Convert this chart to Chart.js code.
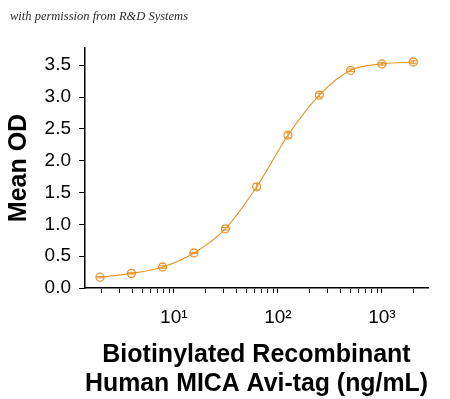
<!DOCTYPE html>
<html>
<head>
<meta charset="utf-8">
<script src="https://cdn.jsdelivr.net/npm/chart.js@4/dist/chart.umd.min.js"></script>
<style>
  html, body { margin: 0; padding: 0; background: #fff; }
  #wrap { position: relative; width: 450px; height: 399px; }
  #credit { position: absolute; left: 10px; top: 9px; font: italic 12.5px "Liberation Serif", "DejaVu Serif", serif; color: #2a2a2a; white-space: nowrap; }
  canvas { position: absolute; left: 0; top: 0; }
</style>
</head>
<body>
<div id="wrap">
  <canvas id="c" width="450" height="399"></canvas>
  <div id="credit">with permission from R&amp;D Systems</div>
</div>
<script>
// Data
const concentrations = [1.95, 3.91, 7.81, 15.6, 31.25, 62.5, 125, 250, 500, 1000, 2000];
const meanOD = [0.17, 0.23, 0.33, 0.55, 0.93, 1.59, 2.40, 3.03, 3.42, 3.52, 3.55];
const odError = [0.01, 0.01, 0.02, 0.01, 0.02, 0.05, 0.04, 0.03, 0.02, 0.02, 0.02];
const yTickValues = [0, 0.5, 1.0, 1.5, 2.0, 2.5, 3.0, 3.5];
const xMajorLabels = { 10: '10\u00B9', 100: '10\u00B2', 1000: '10\u00B3' };

const ORANGE = '#E8952A';
const points = concentrations.map((c, i) => ({ x: c, y: meanOD[i] }));

const errorBars = {
  id: 'errorBars',
  afterDatasetsDraw(chart) {
    const ctx = chart.ctx;
    const xs = chart.scales.x, ys = chart.scales.y;
    ctx.save();
    ctx.strokeStyle = ORANGE;
    ctx.lineWidth = 1;
    concentrations.forEach((c, i) => {
      const px = xs.getPixelForValue(c);
      const top = ys.getPixelForValue(meanOD[i] + odError[i]);
      const bot = ys.getPixelForValue(meanOD[i] - odError[i]);
      ctx.beginPath();
      ctx.moveTo(px, top); ctx.lineTo(px, bot);
      ctx.moveTo(px - 3.5, top); ctx.lineTo(px + 3.5, top);
      ctx.moveTo(px - 3.5, bot); ctx.lineTo(px + 3.5, bot);
      ctx.stroke();
    });
    ctx.restore();
  }
};

function niceLog(v) {
  const e = Math.floor(Math.log10(v) + 1e-9);
  const m = v / Math.pow(10, e);
  return Math.abs(m - Math.round(m)) < 1e-6;
}

new Chart(document.getElementById('c'), {
  type: 'scatter',
  data: {
    datasets: [
      {
        data: points,
        showLine: true,
        borderColor: ORANGE,
        borderWidth: 1.2,
        cubicInterpolationMode: 'monotone',
        pointRadius: 0,
        fill: false,
        order: 2
      },
      {
        data: points,
        showLine: false,
        pointRadius: 4,
        pointBorderWidth: 1.3,
        pointBorderColor: ORANGE,
        pointBackgroundColor: 'rgba(255,255,255,0)',
        order: 1
      }
    ]
  },
  plugins: [errorBars],
  options: {
    responsive: false,
    animation: false,
    devicePixelRatio: 1,
    layout: { padding: { left: 0, right: 22, top: 48, bottom: 0 } },
    plugins: { legend: { display: false }, tooltip: { enabled: false } },
    scales: {
      x: {
        type: 'logarithmic',
        min: 1.4,
        max: 2770,
        border: { display: true, color: '#000', width: 1.5 },
        grid: { display: true, drawOnChartArea: false, drawTicks: true, tickLength: 5, color: '#000', lineWidth: 1 },
        afterBuildTicks(scale) {
          scale.ticks = scale.ticks.filter(t => niceLog(t.value));
        },
        ticks: {
          autoSkip: false,
          maxRotation: 0,
          padding: 13,
          color: '#000',
          font: { family: 'Liberation Sans, Arial, sans-serif', size: 19 },
          callback(v) { const r = Math.round(v); return [10, 100, 1000].includes(r) && Math.abs(v - r) < 1e-6 ? xMajorLabels[r] : ''; }
        },
        title: {
          display: true,
          text: ['Biotinylated Recombinant', 'Human MICA Avi-tag (ng/mL)'],
          color: '#000',
          font: { family: 'Liberation Sans, Arial, sans-serif', size: 25, weight: 'bold', lineHeight: 1.16 },
          padding: { top: 6, bottom: 0 }
        },
        afterFit(scale) { scale.height = 111; }
      },
      y: {
        type: 'linear',
        min: 0,
        max: 3.77,
        border: { display: true, color: '#000', width: 1.5 },
        grid: { display: true, drawOnChartArea: false, drawTicks: true, tickLength: 6, color: '#000', lineWidth: 1 },
        afterBuildTicks(scale) {
          scale.ticks = yTickValues.map(v => ({ value: v }));
        },
        ticks: {
          padding: 8,
          color: '#000',
          font: { family: 'Liberation Sans, Arial, sans-serif', size: 19 },
          callback(v) { return Number(v).toFixed(1); }
        },
        title: {
          display: true,
          text: 'Mean OD',
          color: '#000',
          font: { family: 'Liberation Sans, Arial, sans-serif', size: 25, weight: 'bold' },
          padding: { top: 4, bottom: 0 }
        },
        afterFit(scale) { scale.width = 85; }
      }
    }
  }
});
</script>
</body>
</html>
